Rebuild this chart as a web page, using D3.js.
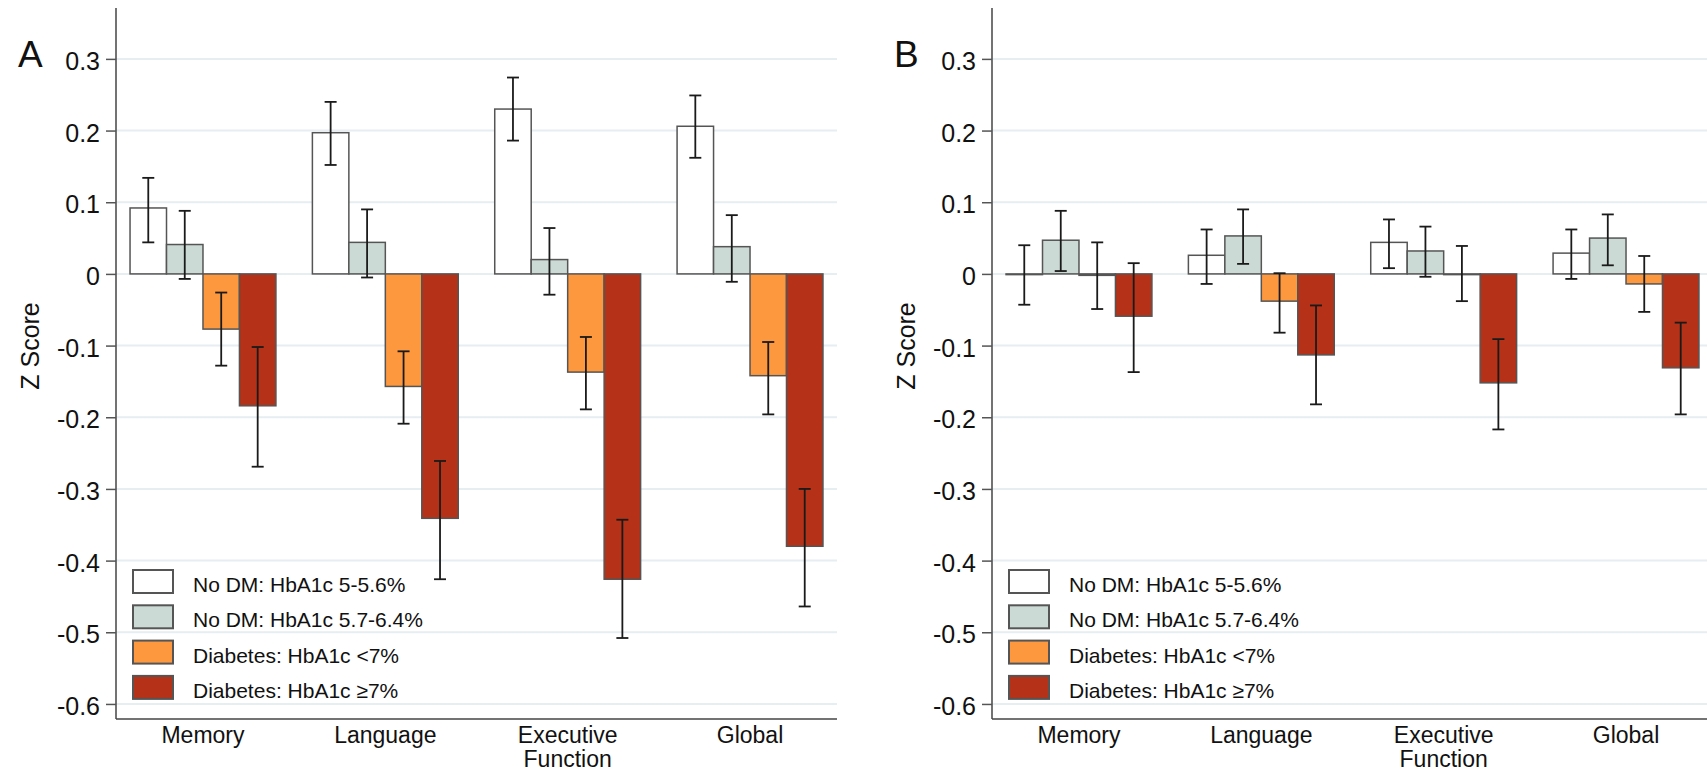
<!DOCTYPE html>
<html>
<head>
<meta charset="utf-8">
<script src="https://cdn.jsdelivr.net/npm/d3@7"></script>
<style>
  body { margin: 0; background: #fff; }
  svg { display: block; font-family: "Liberation Sans", Arial, Helvetica, sans-serif; }
</style>
</head>
<body>
<div id="chartContainer"></div>
<script>
// domains / labels
const categories = ["Memory", "Language", "Executive Function", "Global"];
const series = ["No DM: HbA1c 5-5.6%", "No DM: HbA1c 5.7-6.4%", "Diabetes: HbA1c <7%", "Diabetes: HbA1c \u22657%"];
const yTicks = [0.3, 0.2, 0.1, 0, -0.1, -0.2, -0.3, -0.4, -0.5, -0.6];

// panel A: means, lower and upper CI, one row per category, one column per series
const meanA = [
  [0.092, 0.041, -0.077, -0.184],
  [0.197, 0.044, -0.157, -0.341],
  [0.230, 0.020, -0.137, -0.426],
  [0.206, 0.038, -0.142, -0.380]
];
const lowA = [
  [0.044, -0.007, -0.128, -0.269],
  [0.152, -0.005, -0.209, -0.426],
  [0.186, -0.029, -0.189, -0.508],
  [0.162, -0.011, -0.196, -0.464]
];
const highA = [
  [0.134, 0.088, -0.026, -0.102],
  [0.240, 0.090, -0.108, -0.261],
  [0.274, 0.064, -0.088, -0.343],
  [0.249, 0.082, -0.095, -0.300]
];

// panel B
const meanB = [
  [-0.001, 0.047, -0.002, -0.059],
  [0.026, 0.053, -0.038, -0.113],
  [0.044, 0.032, -0.001, -0.152],
  [0.029, 0.050, -0.014, -0.131]
];
const lowB = [
  [-0.043, 0.004, -0.049, -0.137],
  [-0.014, 0.014, -0.082, -0.182],
  [0.008, -0.004, -0.038, -0.217],
  [-0.007, 0.012, -0.053, -0.196]
];
const highB = [
  [0.040, 0.088, 0.044, 0.015],
  [0.062, 0.090, 0.001, -0.044],
  [0.076, 0.066, 0.039, -0.091],
  [0.062, 0.083, 0.025, -0.068]
];

const colors = ["#ffffff", "#cbdad5", "#fd983e", "#b53117"];

const width = 1707, height = 773;
const plotW = 721, plotTop = 8, plotBottom = 719;

const svg = d3.select("#chartContainer").append("svg").attr("width", width).attr("height", height);

const y = d3.scaleLinear().domain([-0.621, 0.371]).range([plotBottom, plotTop]);

// plain hyphen for negatives, like the original
const fmt = (d) => (d === 0 ? "0" : d3.format(".1f")(d).replace("\u2212", "-"));

function drawPanel(left, letter, mean, low, high) {
  const x = d3.scaleBand().domain(categories).range([left, left + plotW]).paddingInner(0.2).paddingOuter(0.077);
  const xs = d3.scaleBand().domain(d3.range(series.length)).range([0, x.bandwidth()]);

  const g = svg.append("g");

  // gridlines
  g.selectAll(".grid")
    .data(yTicks)
    .enter()
    .append("line")
    .attr("x1", left)
    .attr("x2", left + plotW)
    .attr("y1", (d) => y(d))
    .attr("y2", (d) => y(d))
    .style("stroke", "#e6eef1")
    .style("stroke-width", 2);

  // bars
  const rows = [];
  categories.forEach((c, i) => {
    series.forEach((s, j) => {
      rows.push({ cat: c, s: j, v: mean[i][j], lo: low[i][j], hi: high[i][j] });
    });
  });

  g.selectAll(".bar")
    .data(rows)
    .enter()
    .append("rect")
    .attr("x", (d) => x(d.cat) + xs(d.s))
    .attr("width", xs.bandwidth())
    .attr("y", (d) => y(Math.max(0, d.v)))
    .attr("height", (d) => Math.abs(y(d.v) - y(0)))
    .style("fill", (d) => colors[d.s])
    .style("stroke", "#555")
    .style("stroke-width", 1.5);

  // error bars
  const cx = (d) => x(d.cat) + xs(d.s) + xs.bandwidth() / 2;
  const eb = g.selectAll(".err").data(rows).enter().append("g").style("stroke", "#1a1a1a").style("stroke-width", 1.8);
  eb.append("line").attr("x1", cx).attr("x2", cx).attr("y1", (d) => y(d.lo)).attr("y2", (d) => y(d.hi));
  eb.append("line").attr("x1", (d) => cx(d) - 6).attr("x2", (d) => cx(d) + 6).attr("y1", (d) => y(d.lo)).attr("y2", (d) => y(d.lo));
  eb.append("line").attr("x1", (d) => cx(d) - 6).attr("x2", (d) => cx(d) + 6).attr("y1", (d) => y(d.hi)).attr("y2", (d) => y(d.hi));

  // y axis
  const yAxis = g.append("g")
    .attr("transform", "translate(" + left + ",0)")
    .call(d3.axisLeft(y).tickValues(yTicks).tickSize(10).tickPadding(6).tickFormat(fmt));
  yAxis.select(".domain").attr("d", "M0," + plotTop + "V" + plotBottom).style("stroke", "#444").style("stroke-width", 1.5);
  yAxis.selectAll(".tick line").style("stroke", "#555").style("stroke-width", 1.5);
  yAxis.selectAll(".tick text")
    .style("font-size", "25px")
    .style("fill", "#111")
    .attr("dy", "0.42em")
    .style("font-family", "'Liberation Sans', Arial, sans-serif");

  // x axis line
  g.append("line")
    .attr("x1", left)
    .attr("x2", left + plotW)
    .attr("y1", plotBottom)
    .attr("y2", plotBottom)
    .style("stroke", "#444")
    .style("stroke-width", 1.5);

  // category labels
  const xl = g.selectAll(".xlab")
    .data(categories)
    .enter()
    .append("text")
    .attr("text-anchor", "middle")
    .style("font-size", "23px")
    .style("fill", "#111");
  xl.each(function (d) {
    const words = d === "Executive Function" ? ["Executive", "Function"] : [d];
    words.forEach((w, k) => {
      d3.select(this).append("tspan").attr("x", x(d) + x.bandwidth() / 2).attr("y", 743 + k * 24).text(w);
    });
  });

  // axis title
  g.append("text")
    .attr("transform", "translate(" + (left - 77) + ",346) rotate(-90)")
    .attr("text-anchor", "middle")
    .style("font-size", "25px")
    .style("fill", "#111")
    .text("Z Score");

  // panel letter
  g.append("text")
    .attr("x", left - 98)
    .attr("y", 67)
    .style("font-size", "37px")
    .style("fill", "#111")
    .text(letter);

  // legend
  const leg = g.selectAll(".legend-item")
    .data(series)
    .enter()
    .append("g")
    .attr("transform", (d, i) => "translate(" + (left + 17) + "," + (570 + i * 35.3) + ")");
  leg.append("rect")
    .attr("width", 40)
    .attr("height", 23)
    .style("fill", (d, i) => colors[i])
    .style("stroke", "#555")
    .style("stroke-width", 2);
  leg.append("text")
    .attr("x", 60)
    .attr("y", 22)
    .style("font-size", "21px")
    .style("fill", "#111")
    .text((d) => d);
}

drawPanel(116, "A", meanA, lowA, highA);
drawPanel(992, "B", meanB, lowB, highB);
</script>
</body>
</html>
